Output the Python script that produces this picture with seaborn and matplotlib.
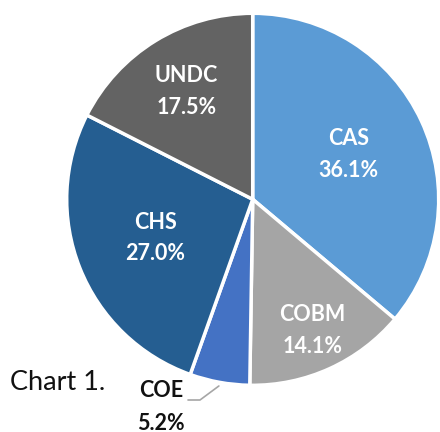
import numpy as np
import matplotlib
matplotlib.use("Agg")
import matplotlib.pyplot as plt
import seaborn as sns

sns.set_theme(style="white")
plt.rcParams['font.family'] = ['Lato', 'DejaVu Sans']

categories = ["CAS", "COBM", "COE", "CHS", "UNDC"]
values = [36.1, 14.1, 5.2, 27.0, 17.5]
colors = ["#5B9BD5", "#A5A5A5", "#4472C4", "#255E91", "#636363"]
label_dist = [0.57, 0.775, None, 0.565, 0.68]

fig = plt.figure(figsize=(4.4, 4.32), dpi=100)
ax = fig.add_axes([0, 0, 1, 1])

cx, cy, R = 252.7, 432 - 199.3, 186
wedges, _ = ax.pie(values, colors=colors, startangle=90, counterclock=False,
                   center=(cx, cy), radius=R,
                   wedgeprops=dict(edgecolor="white", linewidth=2.5))
ax.set_xlim(0, 440)
ax.set_ylim(0, 432)
ax.set_aspect('auto')
ax.axis('off')

for w, cat, val, d in zip(wedges, categories, values, label_dist):
    mid = np.deg2rad((w.theta1 + w.theta2) / 2)
    if d is not None:
        x = cx + d * R * np.cos(mid)
        y = cy + d * R * np.sin(mid)
        ax.text(x, y, f"{cat}\n{val:.1f}%", ha="center", va="center",
                color="white", fontsize=15.5, fontweight="bold", linespacing=1.6)
    else:
        # outside label with leader line
        ex = cx + 1.02 * R * np.cos(mid)
        ey = cy + 1.02 * R * np.sin(mid)
        tx, ty = 161, 432 - 407
        ax.plot([ex, 200, 188], [ey, 432 - 400, 432 - 400], color="#A6A6A6", lw=1.2)
        ax.text(tx, ty, f"{cat}\n{val:.1f}%", ha="center", va="center",
                color="#111111", fontsize=15.5, fontweight="bold", linespacing=1.65)

ax.text(10, 432 - 382, "Chart 1.", ha="left", va="center", fontsize=19.5, color="#111111")

fig.savefig("out.png", dpi=100)
